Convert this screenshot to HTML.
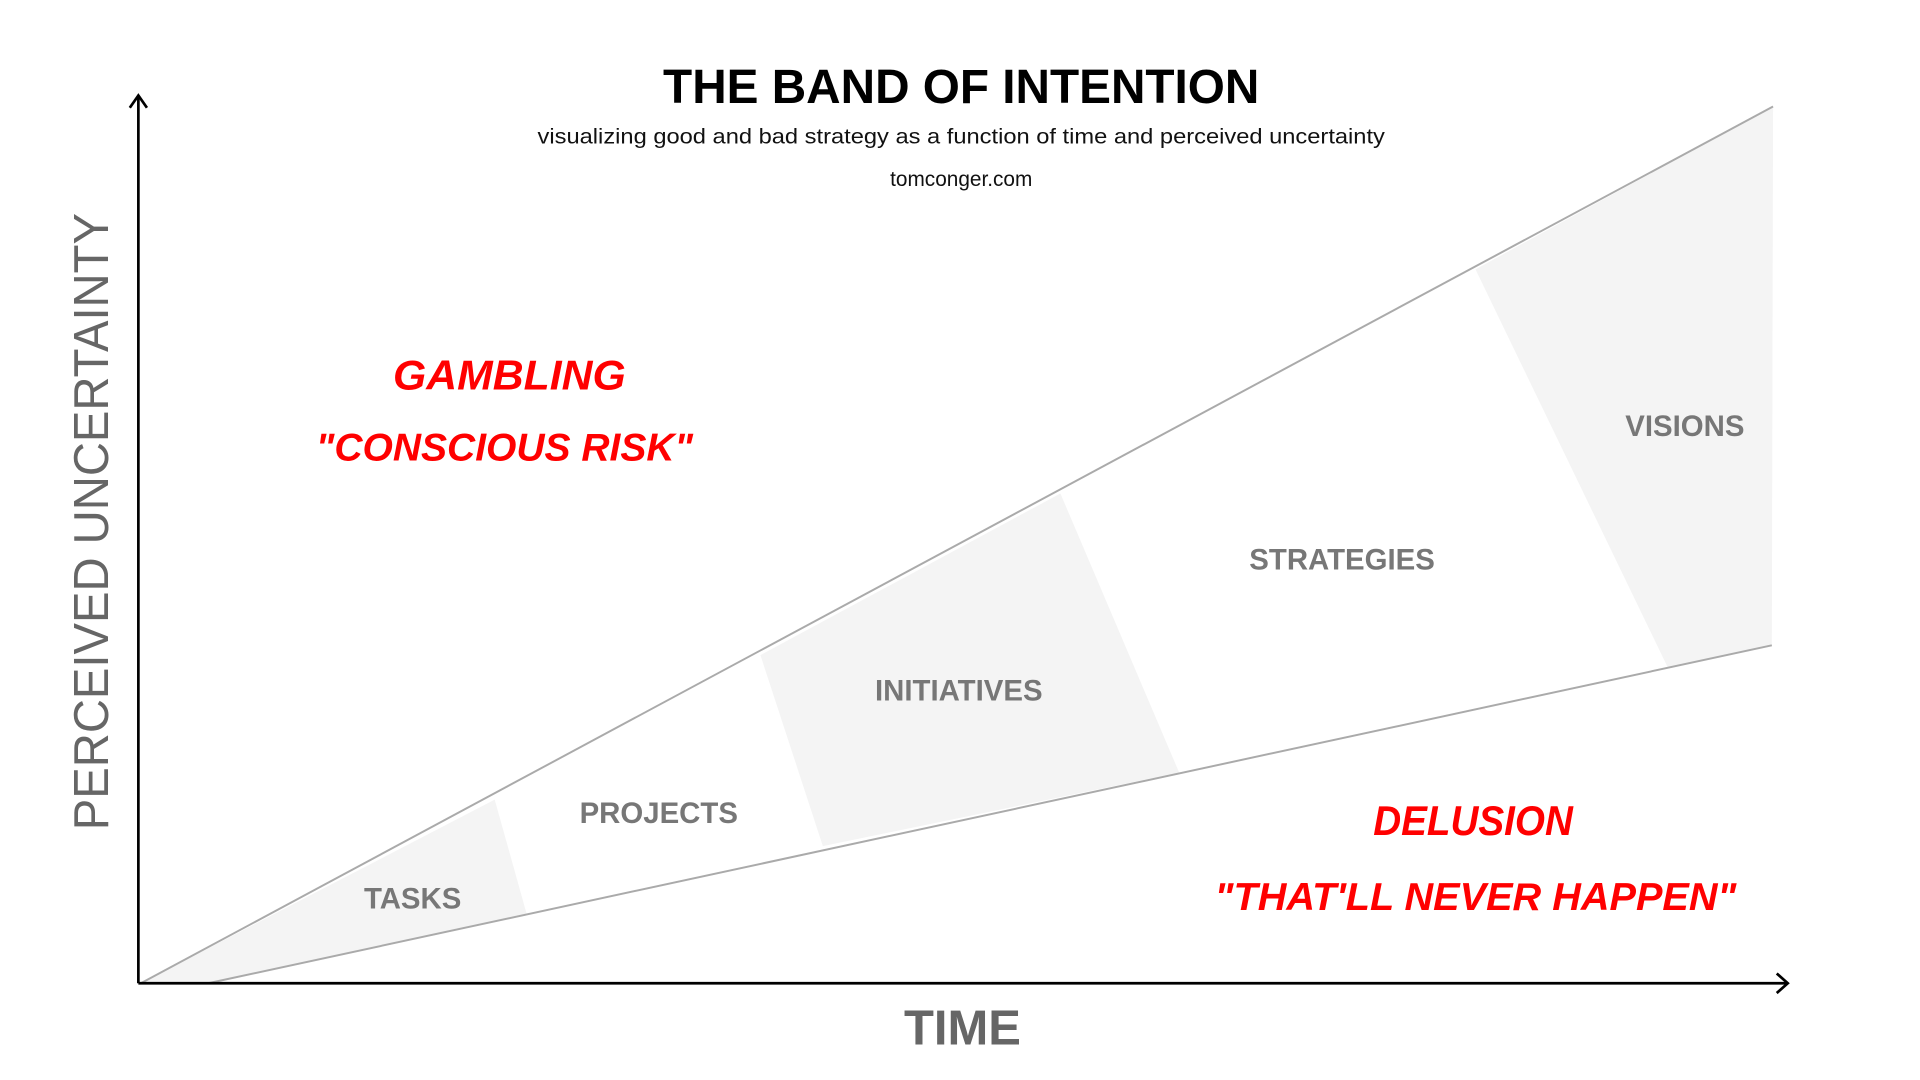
<!DOCTYPE html>
<html><head><meta charset="utf-8"><style>
html,body{margin:0;padding:0;background:#fff;width:1920px;height:1080px;overflow:hidden}
svg{display:block}
text{font-family:"Liberation Sans",sans-serif}
</style></head><body>
<svg width="1920" height="1080" viewBox="0 0 1568 882" xmlns="http://www.w3.org/2000/svg">
<rect width="1568" height="882" fill="#fff"/>
<polygon points="115,803 404,653 430,746 170,803" fill="#f4f4f4"/>
<polygon points="621,535 866,403 963,631 672,691" fill="#f4f4f4"/>
<polygon points="1205,220 1448,87 1447,527 1362,545" fill="#f4f4f4"/>
<line x1="115" y1="803" x2="1448" y2="87" stroke="#aaa" stroke-width="1.6"/>
<line x1="170" y1="803" x2="1447" y2="527" stroke="#aaa" stroke-width="1.6"/>
<line x1="113" y1="803" x2="113" y2="78" stroke="#000" stroke-width="2.2"/>
<polyline points="106,88 113,78 120,88" fill="none" stroke="#000" stroke-width="2.2"/>
<line x1="113" y1="803" x2="1460" y2="803" stroke="#000" stroke-width="2.2"/>
<polyline points="1451,795 1460,803 1451,811" fill="none" stroke="#000" stroke-width="2.2"/>
<g fill="#777" font-weight="bold" font-size="24" text-anchor="middle">
<text x="337" y="742">TASKS</text>
<text x="538" y="672">PROJECTS</text>
<text x="783" y="572">INITIATIVES</text>
<text x="1096" y="465">STRATEGIES</text>
<text x="1376" y="356">VISIONS</text>
</g>
<text x="785" y="84" text-anchor="middle" font-size="39" font-weight="bold" fill="#000" textLength="487" lengthAdjust="spacingAndGlyphs">THE BAND OF INTENTION</text>
<text x="785" y="117" text-anchor="middle" font-size="17" fill="#111" textLength="692" lengthAdjust="spacingAndGlyphs">visualizing good and bad strategy as a function of time and perceived uncertainty</text>
<text x="785" y="152" text-anchor="middle" font-size="17" fill="#111">tomconger.com</text>
<text transform="translate(88,426) rotate(-90)" text-anchor="middle" font-size="40" fill="#666" textLength="504" lengthAdjust="spacingAndGlyphs">PERCEIVED UNCERTAINTY</text>
<text x="786" y="853" text-anchor="middle" font-size="40" font-weight="bold" fill="#666">TIME</text>
<g fill="#f00" font-weight="bold" font-style="italic" text-anchor="middle">
<text x="416" y="318" font-size="34" textLength="190" lengthAdjust="spacingAndGlyphs">GAMBLING</text>
<text x="412" y="376" font-size="32" textLength="308" lengthAdjust="spacingAndGlyphs">"CONSCIOUS RISK"</text>
<text x="1203" y="682" font-size="34" textLength="163" lengthAdjust="spacingAndGlyphs">DELUSION</text>
<text x="1205" y="743" font-size="32" textLength="426" lengthAdjust="spacingAndGlyphs">"THAT'LL NEVER HAPPEN"</text>
</g>
</svg>
</body></html>
